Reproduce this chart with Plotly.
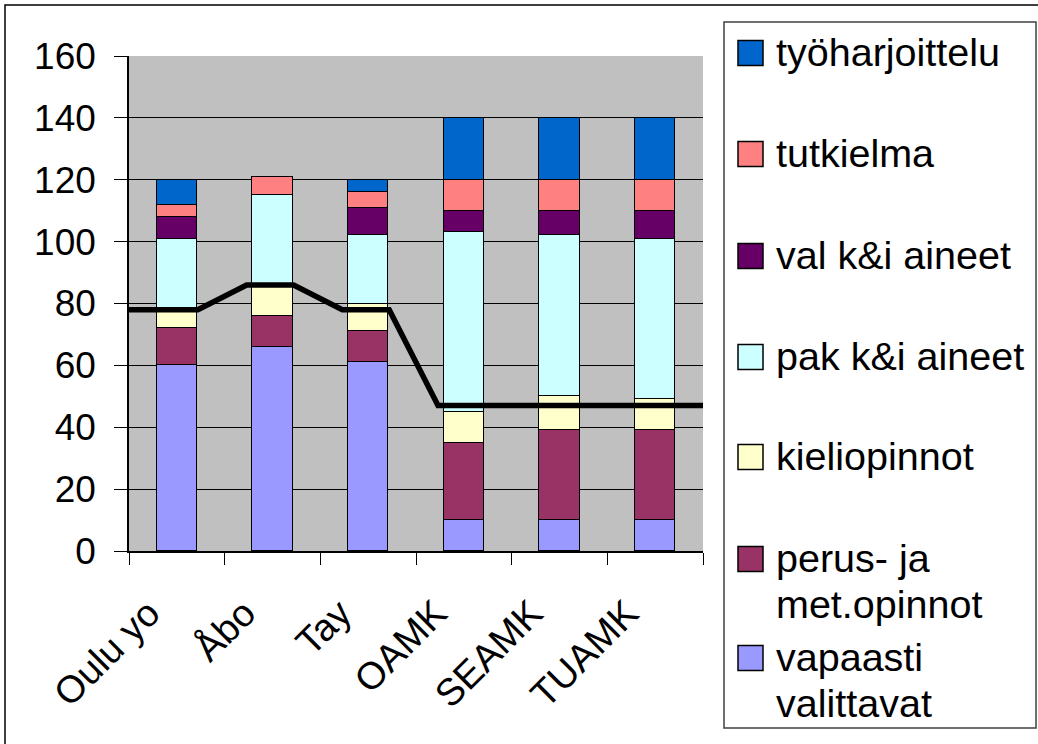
import plotly.graph_objects as go

categories = ["Oulu yo", "Åbo", "Tay", "OAMK", "SEAMK", "TUAMK"]

series_names = ["vapaasti<br>valittavat", "perus- ja<br>met.opinnot", "kieliopinnot",
                "pak k&i aineet", "val k&i aineet", "tutkielma", "työharjoittelu"]
vapaasti = [60, 66, 61, 10, 10, 10]
perus = [12, 10, 10, 25, 29, 29]
kieli = [6, 10, 9, 10, 11, 10]
pak = [23, 29, 22, 58, 52, 52]
val = [7, 0, 9, 7, 8, 9]
tutkielma = [4, 6, 5, 10, 10, 10]
tyoharj = [8, 0, 4, 20, 20, 20]
series_values = [vapaasti, perus, kieli, pak, val, tutkielma, tyoharj]
colors = ["#9999FF", "#993366", "#FFFFCC", "#CCFFFF", "#660066", "#FF8080", "#0066CC"]

line_values = [78, 86, 78, 47, 47, 47]

y_ticks = [0, 20, 40, 60, 80, 100, 120, 140, 160]

FONT = "Liberation Sans, Arial, sans-serif"
W, H = 1038, 744
ML, MR, MT, MB = 129, 335, 56, 193
PW, PH = W - ML - MR, H - MT - MB


def px(x):
    return (x - ML) / PW


def py(y):
    return (H - MB - y) / PH


fig = go.Figure()
idx = list(range(len(categories)))
for name, vals, col in zip(series_names, series_values, colors):
    fig.add_trace(go.Bar(
        x=idx, y=vals, name=name.replace("<br>", " "), width=0.42,
        marker=dict(color=col, line=dict(color="#000000", width=1.5)),
        showlegend=False,
    ))

# step-like line across bars
lx, ly = [], []
n = len(categories)
for i, v in enumerate(line_values):
    lx += [i - 0.27 if i > 0 else -0.5, i + 0.22 if i < n - 1 else n - 0.5]
    ly += [v, v]
fig.add_trace(go.Scatter(x=lx, y=ly, mode="lines", line=dict(color="#000000", width=5.5),
                         showlegend=False, cliponaxis=False))

shapes = []
# outer border (top & left visible)
shapes.append(dict(type="path", xref="paper", yref="paper",
                   path=f"M {px(5)} {py(760)} L {px(5)} {py(5)} L {px(1045)} {py(5)}",
                   line=dict(color="#000000", width=1.5)))
# legend box
shapes.append(dict(type="rect", xref="paper", yref="paper",
                   x0=px(724), x1=px(1036), y0=py(728), y1=py(22),
                   line=dict(color="#404040", width=1.5), fillcolor="white"))

annotations = []
legend_centers = [658, 559, 457, 357, 256, 154, 53]
LINE_GAP = 46
for name, col, cy in zip(series_names, colors, legend_centers):
    shapes.append(dict(type="rect", xref="paper", yref="paper",
                       x0=px(738), x1=px(763), y0=py(cy + 12.5), y1=py(cy - 12.5),
                       line=dict(color="#000000", width=1.5), fillcolor=col))
    for k, part in enumerate(name.split("<br>")):
        annotations.append(dict(xref="paper", yref="paper", x=px(774),
                                y=py(cy - 25 + k * LINE_GAP),
                                text=part, showarrow=False, xanchor="left", yanchor="top",
                                align="left", font=dict(family=FONT, size=39.5, color="#000000")))

fig.update_layout(
    width=W, height=H,
    margin=dict(l=ML, r=MR, t=MT, b=MB, autoexpand=False),
    paper_bgcolor="white", plot_bgcolor="#C0C0C0",
    barmode="stack", bargap=0,
    font=dict(family=FONT, size=38, color="#000000"),
    shapes=shapes, annotations=annotations,
    showlegend=False,
)
fig.update_xaxes(
    automargin=False,
    range=[-0.5, n - 0.5], tickmode="array", tickvals=idx, ticktext=categories,
    tickangle=-45, ticks="", showgrid=False, zeroline=False,
    showline=True, linecolor="#000000", linewidth=1.5,
    ticklabelstandoff=23, ticklabelshift=-28,
    minor=dict(tickmode="array", tickvals=[i - 0.5 for i in range(n + 1)],
               ticks="outside", ticklen=12, tickcolor="#000000", tickwidth=1, showgrid=False),
    tickfont=dict(family=FONT, size=38, color="#000000"),
)
fig.update_yaxes(
    automargin=False,
    range=[0, 160], tickmode="array", tickvals=y_ticks,
    ticks="outside", ticklen=13, tickcolor="#000000", tickwidth=1,
    ticklabelstandoff=11,
    showgrid=True, gridcolor="#000000", gridwidth=1, zeroline=False,
    showline=True, linecolor="#000000", linewidth=1.5,
    tickfont=dict(family=FONT, size=37, color="#000000"),
)

fig.write_html("out.html", config={"displayModeBar": False},
               post_script="document.body.style.margin='0';")
